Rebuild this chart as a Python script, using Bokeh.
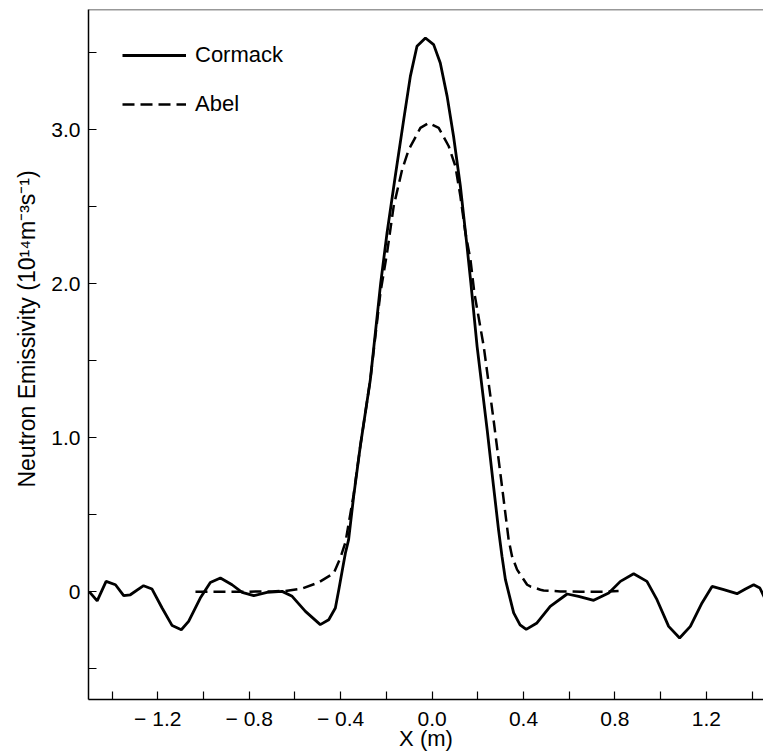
from bokeh.plotting import figure
from bokeh.models import Range1d, FixedTicker, Legend, LegendItem, Span
from bokeh.embed import file_html
from bokeh.resources import INLINE

# Cormack reconstruction (x in m, emissivity in 1e14 m^-3 s^-1)
cormack_x = [-1.50, -1.465, -1.426, -1.385, -1.349, -1.320, -1.262, -1.225, -1.181, -1.137,
             -1.097, -1.065, -1.014, -0.970, -0.926, -0.875, -0.831, -0.780, -0.722, -0.656,
             -0.612, -0.554, -0.489, -0.452, -0.423, -0.408, -0.387, -0.379, -0.365, -0.343,
             -0.314, -0.270, -0.225, -0.197, -0.161, -0.124, -0.095, -0.066, -0.029, 0.007,
             0.036, 0.066, 0.094, 0.124, 0.153, 0.170, 0.197, 0.241, 0.269, 0.291,
             0.306, 0.321, 0.357, 0.385, 0.412, 0.459, 0.517, 0.591, 0.641, 0.707,
             0.773, 0.824, 0.882, 0.940, 0.984, 1.035, 1.083, 1.130, 1.181, 1.225,
             1.276, 1.334, 1.371, 1.407, 1.434, 1.455]
cormack_y = [0.00, -0.06, 0.067, 0.045, -0.026, -0.02, 0.039, 0.017, -0.106, -0.22,
             -0.247, -0.193, -0.041, 0.06, 0.089, 0.045, -0.005, -0.026, -0.005, 0.002,
             -0.03, -0.128, -0.214, -0.182, -0.106, 0.013, 0.186, 0.251, 0.338, 0.619,
             0.944, 1.377, 2.0, 2.329, 2.697, 3.065, 3.346, 3.541, 3.595, 3.552,
             3.433, 3.216, 2.957, 2.632, 2.242, 2.0, 1.593, 1.052, 0.684, 0.40,
             0.229, 0.078, -0.138, -0.215, -0.245, -0.203, -0.095, -0.015, -0.03, -0.056,
             -0.009, 0.067, 0.117, 0.067, -0.052, -0.225, -0.301, -0.225, -0.073, 0.034,
             0.013, -0.013, 0.017, 0.045, 0.024, -0.04]

# Abel inversion
abel_x = [-1.035, -0.90, -0.80, -0.70, -0.642, -0.569, -0.496, -0.430, -0.401, -0.379,
          -0.343, -0.314, -0.270, -0.226, -0.197, -0.168, -0.131, -0.102, -0.051, -0.015,
          0.029, 0.073, 0.102, 0.124, 0.146, 0.168, 0.185, 0.226, 0.269, 0.306,
          0.335, 0.350, 0.372, 0.416, 0.430, 0.474, 0.488, 0.561, 0.65, 0.75, 0.816]
abel_y = [0.0, 0.0, 0.0, 0.002, 0.005, 0.02, 0.06, 0.12, 0.22, 0.32,
          0.63, 0.944, 1.377, 1.94, 2.199, 2.502, 2.74, 2.87, 3.011, 3.043,
          3.011, 2.892, 2.762, 2.567, 2.329, 2.156, 1.94, 1.593, 1.117, 0.684,
          0.338, 0.229, 0.143, 0.045, 0.034, 0.013, 0.008, 0.002, 0.0, 0.0, 0.005]

x_ticks = [-1.4, -1.2, -1.0, -0.8, -0.6, -0.4, -0.2, 0.0, 0.2, 0.4, 0.6, 0.8, 1.0, 1.2, 1.4]
x_labels = {-1.2: "\u2212 1.2", -0.8: "\u2212 0.8", -0.4: "\u2212 0.4", 0.0: "0.0",
            0.4: "0.4", 0.8: "0.8", 1.2: "1.2"}
y_ticks = [-0.5, 0.0, 0.5, 1.0, 1.5, 2.0, 2.5, 3.0, 3.5]
y_labels = {0.0: "0", 1.0: "1.0", 2.0: "2.0", 3.0: "3.0"}

FONT = "Liberation Sans"
X_START, X_END = -1.503, 1.45
Y_START, Y_END = -0.70, 3.78

p = figure(width=763, height=755, output_backend="svg", toolbar_location=None,
           x_range=Range1d(X_START, X_END), y_range=Range1d(Y_START, Y_END),
           min_border_left=88, min_border_right=0, min_border_top=9, min_border_bottom=56)
p.background_fill_color = "white"
p.border_fill_color = "white"
p.outline_line_color = None
p.xgrid.visible = False
p.ygrid.visible = False

r1 = p.line(cormack_x, cormack_y, line_color="black", line_width=2.8)
r2 = p.line(abel_x, abel_y, line_color="black", line_width=2.5, line_dash="12 6")

p.add_layout(Span(location=Y_END, dimension="width", line_color="#333333", line_width=1.5))

for ax in (p.xaxis[0], p.yaxis[0]):
    ax.axis_line_color = "black"
    ax.axis_line_width = 1.5
    ax.major_tick_in = 8
    ax.major_tick_out = 0
    ax.major_tick_line_color = "black"
    ax.major_tick_line_width = 1.2
    ax.minor_tick_line_color = None
    ax.major_label_text_font = FONT
    ax.major_label_text_font_size = "21px"
    ax.major_label_text_color = "black"
    ax.axis_label_text_font = FONT
    ax.axis_label_text_font_style = "normal"
    ax.axis_label_text_color = "black"

p.xaxis.ticker = FixedTicker(ticks=x_ticks)
p.xaxis.major_label_overrides = {t: x_labels.get(t, "") for t in x_ticks}
p.xaxis.axis_label = "X (m)"
p.xaxis.axis_label_text_font_size = "22px"
p.xaxis.major_label_standoff = 7
p.xaxis.axis_label_standoff = -7

p.yaxis.ticker = FixedTicker(ticks=y_ticks)
p.yaxis.major_label_overrides = {t: y_labels.get(t, "") for t in y_ticks}
p.yaxis.axis_label = ("\u00a0" * 8) + "Neutron Emissivity (10\u00b9\u2074m\u207b\u00b3s\u207b\u00b9)"
p.yaxis.axis_label_text_font_size = "23px"
p.yaxis.major_label_standoff = 8
p.yaxis.axis_label_standoff = 8

legend = Legend(items=[LegendItem(label="Cormack", renderers=[r1]),
                       LegendItem(label="Abel", renderers=[r2])],
                location=(34, 582), padding=0, margin=0, spacing=23,
                glyph_width=64, glyph_height=24, label_standoff=9,
                label_text_font=FONT, label_text_font_size="22px",
                label_text_color="black",
                border_line_color=None, background_fill_alpha=0)
p.add_layout(legend)

open("out.html", "w").write(file_html(p, INLINE))
